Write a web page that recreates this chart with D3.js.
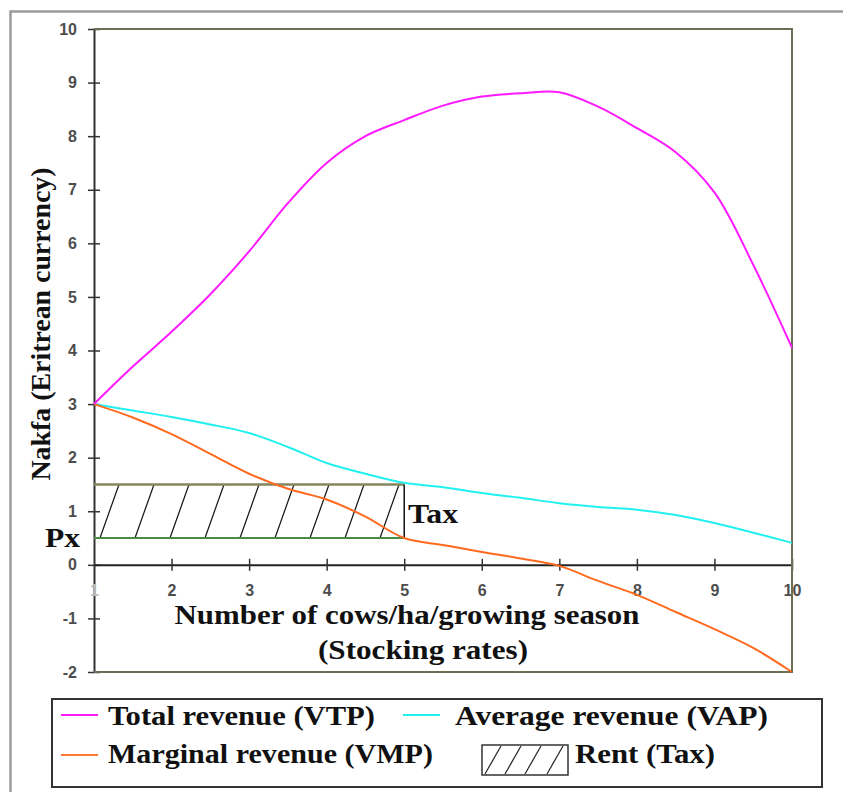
<!DOCTYPE html>
<html>
<head>
<meta charset="utf-8">
<script src="https://cdn.jsdelivr.net/npm/d3@7"></script>
<style>
body { margin: 0; background: #fff; }
.ttl { font-family: "Liberation Serif", "Times New Roman", serif; font-weight: bold; fill: #111; }
</style>
</head>
<body>
<div id="chart"></div>
<script>
// stocking rate (cows/ha/growing season)
var stock = [1, 1.5, 2, 2.5, 3, 3.5, 4, 4.5, 5, 5.5, 6, 6.5, 7, 7.5, 8, 8.5, 9, 9.5, 10];
var vtp = [3.0, 3.7, 4.35, 5.05, 5.85, 6.75, 7.5, 8.0, 8.3, 8.57, 8.74, 8.8, 8.82, 8.55, 8.15, 7.7, 6.95, 5.6, 4.05];
var vap = [3.0, 2.88, 2.76, 2.62, 2.46, 2.2, 1.9, 1.7, 1.53, 1.45, 1.34, 1.25, 1.15, 1.08, 1.03, 0.93, 0.78, 0.6, 0.41];
var vmp = [3.0, 2.75, 2.44, 2.07, 1.7, 1.42, 1.22, 0.9, 0.5, 0.37, 0.24, 0.12, -0.02, -0.3, -0.56, -0.88, -1.2, -1.55, -2.0];
var rentX = [1, 5];
var rentY = [0.5, 1.5];
var xTicks = [1, 2, 3, 4, 5, 6, 7, 8, 9, 10];
var yTicks = [-2, -1, 0, 1, 2, 3, 4, 5, 6, 7, 8, 9, 10];

var w = 843, h = 792;

var svg = d3.select("#chart").append("svg")
    .attr("width", w)
    .attr("height", h);

svg.append("rect").attr("width", w).attr("height", h).attr("fill", "#fff");

// outer frame
svg.append("rect")
    .attr("x", 10.5).attr("y", 11.5)
    .attr("width", 900).attr("height", 900)
    .attr("fill", "none")
    .attr("stroke", "#9a9a9a")
    .attr("stroke-width", 2.5);

var x = d3.scaleLinear().domain([1, 10]).range([94, 792]);
var y = d3.scaleLinear().domain([-2, 10]).range([672, 29]);

function plain(d) { return String(d); }

function styleTicks(g) {
    g.attr("font-size", null).attr("font-family", null);
    g.selectAll(".tick text")
        .style("font-family", "'Liberation Sans', Arial, sans-serif")
        .style("font-size", "16px")
        .style("font-weight", "bold")
        .attr("fill", "#4d4d4d");
}

// y axis
var yAxis = svg.append("g")
    .attr("transform", "translate(" + x(1) + ",0)")
    .call(d3.axisLeft(y).tickValues(yTicks).tickFormat(plain).tickSize(6).tickPadding(11).tickSizeOuter(0));
yAxis.select(".domain").attr("stroke", "#333").attr("stroke-width", 2);
yAxis.selectAll(".tick line").attr("x1", 6).attr("x2", -6).attr("stroke", "#333").attr("stroke-width", 1.5);
styleTicks(yAxis);

// x axis on zero line
var xAxis = svg.append("g")
    .attr("transform", "translate(0," + y(0) + ")")
    .call(d3.axisBottom(x).tickValues(xTicks).tickFormat(plain).tickSize(6).tickPadding(14).tickSizeOuter(0));
xAxis.select(".domain").attr("stroke", "#222").attr("stroke-width", 2);
xAxis.selectAll(".tick line").attr("y1", -6).attr("y2", 6).attr("stroke", "#333").attr("stroke-width", 1.5);
styleTicks(xAxis);
xAxis.selectAll(".tick").filter(function(d) { return d === 1; }).select("line").remove();
xAxis.selectAll(".tick").filter(function(d) { return d === 1; }).select("text").attr("fill", "#bbb");

// plot frame (top, right, bottom)
svg.append("path")
    .attr("d", "M" + x(1) + "," + y(10) + "H" + x(10) + "V" + y(-2) + "H" + x(1))
    .attr("fill", "none")
    .attr("stroke", "#6e6e52")
    .attr("stroke-width", 2);

// rent (tax) hatched area
svg.append("clipPath").attr("id", "rentClip")
    .append("rect")
    .attr("x", x(rentX[0])).attr("y", y(rentY[1]))
    .attr("width", x(rentX[1]) - x(rentX[0]))
    .attr("height", y(rentY[0]) - y(rentY[1]));

var hatch = [];
for (var bx = x(rentX[0]) + 6; bx < x(rentX[1]); bx += 35) hatch.push(bx);
svg.append("g").attr("clip-path", "url(#rentClip)")
    .selectAll("line").data(hatch).enter().append("line")
    .attr("x1", function(d) { return d; })
    .attr("y1", y(rentY[0]))
    .attr("x2", function(d) { return d + 19; })
    .attr("y2", y(rentY[1]))
    .attr("stroke", "#111")
    .attr("stroke-width", 1.2);

svg.append("line")
    .attr("x1", x(rentX[0])).attr("x2", x(rentX[1]))
    .attr("y1", y(rentY[1])).attr("y2", y(rentY[1]))
    .attr("stroke", "#85855e").attr("stroke-width", 2.5);
svg.append("line")
    .attr("x1", x(rentX[0])).attr("x2", x(rentX[1]))
    .attr("y1", y(rentY[0])).attr("y2", y(rentY[0]))
    .attr("stroke", "#4a8a44").attr("stroke-width", 2);
svg.append("line")
    .attr("x1", x(rentX[1])).attr("x2", x(rentX[1]))
    .attr("y1", y(rentY[0])).attr("y2", y(rentY[1]))
    .attr("stroke", "#111").attr("stroke-width", 1.5);

// curves
var series = [
    { name: "vap", values: vap, color: "#22f0f0" },
    { name: "vmp", values: vmp, color: "#ff6a1f" },
    { name: "vtp", values: vtp, color: "#ff1aff" }
];
var line = d3.line()
    .x(function(d, i) { return x(stock[i]); })
    .y(function(d) { return y(d); })
    .curve(d3.curveCatmullRom.alpha(0.5));

svg.selectAll(".curve").data(series).enter().append("path")
    .attr("class", "curve")
    .attr("d", function(d) { return line(d.values); })
    .attr("fill", "none")
    .attr("stroke", function(d) { return d.color; })
    .attr("stroke-width", 2);

// labels
function label(txt, px, py, len, size, anchor, rot) {
    var t = svg.append("text")
        .attr("class", "ttl")
        .attr("x", px).attr("y", py)
        .attr("font-size", size)
        .attr("text-anchor", anchor || "start")
        .attr("textLength", len)
        .attr("lengthAdjust", "spacingAndGlyphs")
        .text(txt);
    if (rot) t.attr("transform", "rotate(" + rot + "," + px + "," + py + ")");
    return t;
}

label("Nakfa (Eritrean currency)", 50, 324, 313, 28, "middle", -90);
label("Number of cows/ha/growing season", 407, 624, 465, 28, "middle");
label("(Stocking rates)", 423, 659, 210, 28, "middle");
label("Px", 45, 547, 35, 28);
label("Tax", 408, 523, 50, 28);

// legend
svg.append("rect")
    .attr("x", 52).attr("y", 699)
    .attr("width", 770).attr("height", 88)
    .attr("fill", "#fff")
    .attr("stroke", "#333")
    .attr("stroke-width", 2);

var legendLines = [
    { color: "#ff1aff", x: 61, y: 715 },
    { color: "#22f0f0", x: 403, y: 715 },
    { color: "#ff7a30", x: 61, y: 755 }
];
svg.selectAll(".leg-line").data(legendLines).enter().append("line")
    .attr("x1", function(d) { return d.x; })
    .attr("x2", function(d) { return d.x + 37; })
    .attr("y1", function(d) { return d.y; })
    .attr("y2", function(d) { return d.y; })
    .attr("stroke", function(d) { return d.color; })
    .attr("stroke-width", 2);

label("Total revenue (VTP)", 108, 725, 267, 28);
label("Average revenue (VAP)", 455, 725, 313, 28);
label("Marginal revenue (VMP)", 108, 763, 325, 28);
label("Rent (Tax)", 575, 763, 140, 28);

// legend hatch swatch
svg.append("rect")
    .attr("x", 482).attr("y", 745)
    .attr("width", 86).attr("height", 30)
    .attr("fill", "#fff")
    .attr("stroke", "#333")
    .attr("stroke-width", 1.5);
svg.selectAll(".leg-hatch").data([485, 505, 525, 547]).enter().append("line")
    .attr("x1", function(d) { return d; })
    .attr("y1", 774)
    .attr("x2", function(d) { return d + 16; })
    .attr("y2", 746)
    .attr("stroke", "#222")
    .attr("stroke-width", 1.2);
</script>
</body>
</html>
